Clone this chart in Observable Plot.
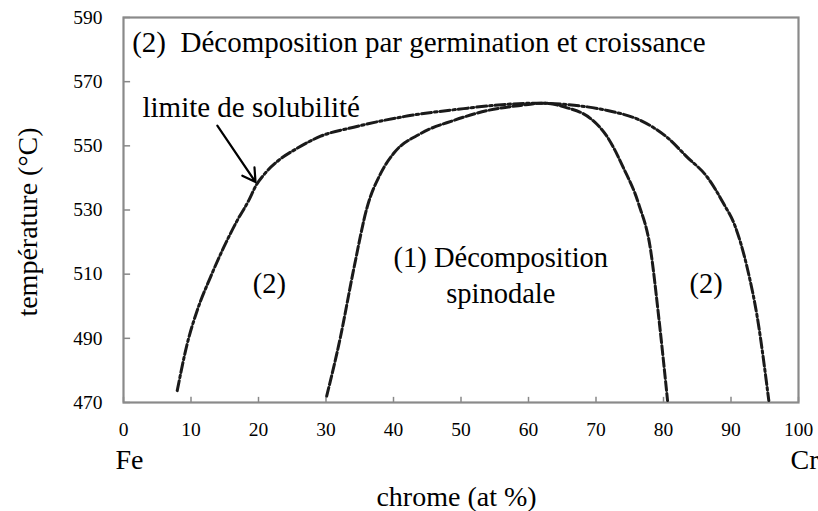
<!DOCTYPE html>
<html>
<head>
<meta charset="utf-8">
<script src="https://cdn.jsdelivr.net/npm/d3@7"></script>
<script src="https://cdn.jsdelivr.net/npm/@observablehq/plot@0.6"></script>
<style>
  html, body { margin: 0; padding: 0; background: #fff; }
</style>
</head>
<body>
<div id="chart"></div>
<script>
// Data
const xTicks = [0, 10, 20, 30, 40, 50, 60, 70, 80, 90, 100];
const yTicks = [470, 490, 510, 530, 550, 570, 590];

// Limite de solubilité (dash-dot)
const solvusX = [7.96, 9.44, 10.92, 12.89, 14.86, 16.84, 18.56, 19.6, 21, 23, 25.7, 29.2, 34.1, 41.5, 50.4, 54.8, 61.3, 66, 71.7, 76.6, 80.5, 83.5, 86.5, 88.9, 90.6, 92.4, 93.9, 95.6];
const solvusT = [473.7, 488.3, 498.7, 509.1, 518.4, 526.7, 533, 537.5, 541.5, 545.5, 549.2, 553, 555.8, 559.1, 561.6, 562.6, 563.3, 562.8, 561, 557.9, 552.7, 546.5, 540.2, 532, 525, 512, 496.5, 470.6];

// Spinodale (dashed)
const spinX = [30.1, 32.1, 34.1, 36.1, 38.1, 40, 44, 48.9, 53.9, 58.8, 62, 65.5, 69.2, 71.7, 74.1, 76.3, 78.1, 79.3, 80.6];
const spinT = [472, 490, 511.5, 530.9, 541.4, 547.6, 553.8, 557.9, 561, 562.6, 563.3, 562, 558.5, 552.7, 543, 532, 517.4, 496.5, 470.6];

// Annotations (data coordinates)
const annText = ["(2)", "(2)", "(1) Décomposition", "spinodale"];
const annX = [21.6, 86.3, 55.9, 55.9];
const annT = [506.9, 506.9, 515, 503.8];

const titleText = ["(2)  Décomposition par germination et croissance"];
const titleX = [1.29];
const titleT = [582];

const limText = ["limite de solubilité"];
const limX = [2.81];
const limT = [561.8];

const arrowFrom = [13.9, 556.3];
const arrowTo = [19.56, 538.7];

const solvus = solvusX.map((x, i) => ({x, t: solvusT[i]}));
const spin = spinX.map((x, i) => ({x, t: spinT[i]}));
const ann = annText.map((s, i) => ({s, x: annX[i], t: annT[i]}));

const chart = Plot.plot({
  width: 818,
  height: 511,
  marginLeft: 123,
  marginRight: 20,
  marginTop: 17,
  marginBottom: 109,
  x: {domain: [0, 100]},
  y: {domain: [470, 590]},
  style: {fontFamily: "'Liberation Serif', 'Times New Roman', serif", fontSize: "19.5px", color: "#000", background: "#fff"},
  marks: [
    Plot.ruleY(yTicks, {x1: 0, x2: 1.05, stroke: "#888", strokeWidth: 1.5}),
    Plot.ruleX(xTicks, {y1: 470, y2: 471.6, stroke: "#888", strokeWidth: 1.5}),
    Plot.frame({stroke: "#8a8a8a", strokeWidth: 2.2}),
    Plot.axisY(yTicks, {tickSize: 0, tickPadding: 21, label: null, fontSize: 19.5}),
    Plot.axisX(xTicks, {tickSize: 0, tickPadding: 20, label: null, fontSize: 19.5}),
    Plot.line(solvus, {x: "x", y: "t", curve: "monotone-x", stroke: "#1a1a1a", strokeWidth: 3, strokeDasharray: "10,3,2.5,3"}),
    Plot.line(spin, {x: "x", y: "t", curve: "monotone-x", stroke: "#1a1a1a", strokeWidth: 3, strokeDasharray: "9,3"}),
    Plot.text(ann, {x: "x", y: "t", text: "s", fontSize: 28.5, lineAnchor: "middle"}),
    Plot.text(titleText, {x: titleX, y: titleT, text: d => d, textAnchor: "start", lineAnchor: "middle", fontSize: 29}),
    Plot.text(limText, {x: limX, y: limT, text: d => d, textAnchor: "start", lineAnchor: "middle", fontSize: 29}),
    Plot.arrow([0], {x1: arrowFrom[0], y1: arrowFrom[1], x2: arrowTo[0], y2: arrowTo[1], stroke: "#000", strokeWidth: 2.2, headLength: 10, bend: false}),
    Plot.text(["température (°C)"], {frameAnchor: "left", text: d => d, rotate: -90, dx: -95, dy: 12, textAnchor: "middle", lineAnchor: "middle", fontSize: 28}),
    Plot.text(["chrome (at %)"], {frameAnchor: "bottom", text: d => d, dy: 95, dx: -4.5, textAnchor: "middle", lineAnchor: "middle", fontSize: 28}),
    Plot.text(["Fe"], {frameAnchor: "bottom-left", text: d => d, dy: 58, dx: -8, textAnchor: "start", lineAnchor: "middle", fontSize: 28}),
    Plot.text(["Cr"], {frameAnchor: "bottom-right", text: d => d, dy: 58, dx: 20, textAnchor: "end", lineAnchor: "middle", fontSize: 28})
  ]
});
document.getElementById("chart").append(chart);
</script>
</body>
</html>
